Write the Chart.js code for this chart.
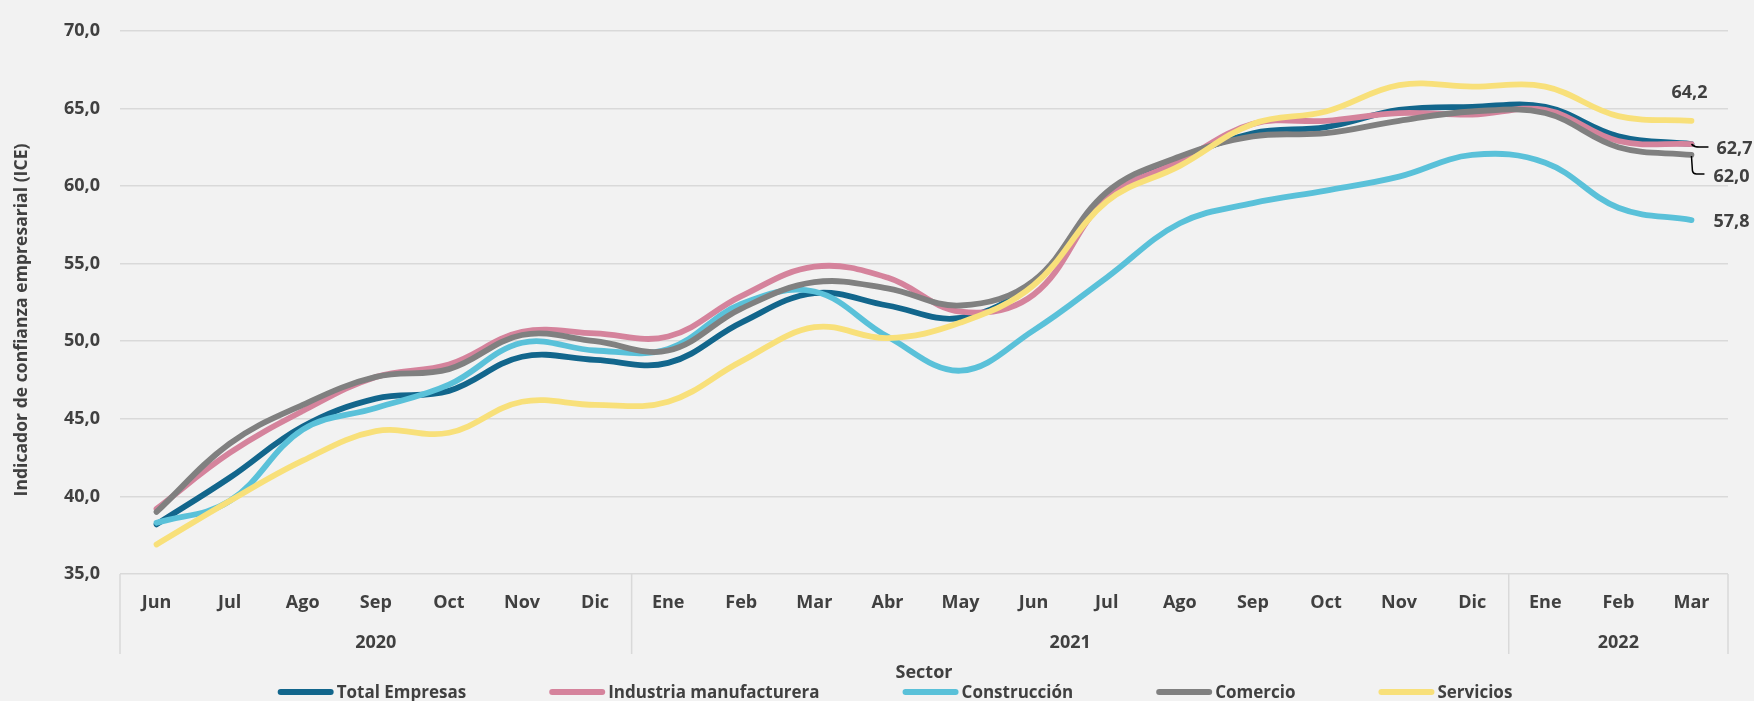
<!DOCTYPE html>
<html><head><meta charset="utf-8">
<script src="https://cdn.jsdelivr.net/npm/chart.js@4/dist/chart.umd.min.js"></script>
<style>html,body{margin:0;padding:0;background:#f2f2f2;}#wrap{width:1754px;height:701px;position:relative;}</style>
</head><body><div id="wrap"><canvas id="c"></canvas></div>
<script>
const months = ['Jun','Jul','Ago','Sep','Oct','Nov','Dic','Ene','Feb','Mar','Abr','May','Jun','Jul','Ago','Sep','Oct','Nov','Dic','Ene','Feb','Mar'];
const yearLabels = ['2020','2021','2022'];
const yearSpans = [7,12,3];
const seriesNames = ['Total Empresas','Industria manufacturera','Construcción','Comercio','Servicios'];
const totalEmpresas = [38.2,41.2,44.5,46.3,46.8,49.0,48.8,48.6,51.2,53.1,52.3,51.5,53.8,59.1,61.7,63.4,63.8,64.9,65.1,65.1,63.2,62.7];
const industria =     [39.2,42.8,45.5,47.7,48.5,50.6,50.5,50.3,52.9,54.8,54.1,51.9,53.0,59.2,61.6,64.0,64.2,64.7,64.6,64.9,62.9,62.7];
const construccion =  [38.3,39.7,44.3,45.7,47.2,49.9,49.4,49.5,52.4,53.2,50.3,48.1,50.7,54.1,57.6,58.9,59.7,60.6,62.0,61.5,58.6,57.8];
const comercio =      [39.0,43.4,45.9,47.7,48.2,50.4,50.0,49.4,52.1,53.8,53.4,52.3,53.9,59.6,61.9,63.2,63.4,64.2,64.8,64.7,62.5,62.0];
const servicios =     [36.9,39.7,42.3,44.2,44.1,46.1,45.9,46.1,48.7,50.9,50.2,51.2,53.6,59.0,61.3,64.0,64.8,66.5,66.4,66.4,64.5,64.2];
const seriesValues = [totalEmpresas, industria, construccion, comercio, servicios];
const yTitle = 'Indicador de confianza empresarial (ICE)';
const legendTitle = 'Sector';

const colors = ['#12668c','#d5839c','#5ac1d9','#808080','#f8e07a'];
const FONT = '"Open Sans", "Noto Sans", sans-serif';
const TXT = '#404040';
const fmt = v => v.toFixed(1).replace('.', ',');

const decorations = {
  id: 'decorations',
  afterDraw(chart) {
    const ctx = chart.ctx, xs = chart.scales.x, ca = chart.chartArea;
    ctx.save();
    ctx.strokeStyle = '#d9d9d9'; ctx.lineWidth = 1.5;
    const bounds = [ca.left]; let idx = 0;
    yearSpans.forEach(n => {
      idx += n;
      bounds.push(idx < months.length ? (xs.getPixelForValue(idx - 1) + xs.getPixelForValue(idx)) / 2 : ca.right);
    });
    bounds.forEach(b => { ctx.beginPath(); ctx.moveTo(b, ca.bottom); ctx.lineTo(b, ca.bottom + 80); ctx.stroke(); });
    ctx.fillStyle = TXT; ctx.font = 'bold 18px ' + FONT; ctx.textAlign = 'center'; ctx.textBaseline = 'middle';
    yearLabels.forEach((l, i) => ctx.fillText(l, (bounds[i] + bounds[i + 1]) / 2, ca.bottom + 69));

    ctx.save();
    ctx.font = 'bold 16px ' + FONT;
    const w16 = ctx.measureText(yTitle).width;
    const fs = 16 * 353 / w16;
    ctx.font = 'bold ' + fs.toFixed(2) + 'px ' + FONT;
    ctx.translate(22, 320); ctx.rotate(-Math.PI / 2);
    ctx.fillText(yTitle, 0, 0);
    ctx.restore();

    ctx.font = 'bold 18px ' + FONT; ctx.fillStyle = TXT;
    const last = months.length - 1;
    const pt = i => chart.getDatasetMeta(i).data[last];
    let p = pt(4);
    ctx.textAlign = 'center';
    ctx.fillText(fmt(servicios[last]), p.x - 2, p.y - 28);
    ctx.textAlign = 'left';
    p = pt(0);
    ctx.strokeStyle = '#000'; ctx.lineWidth = 1.5;
    ctx.beginPath(); ctx.moveTo(p.x, p.y); ctx.quadraticCurveTo(p.x + 3, p.y + 3, p.x + 8, p.y + 3); ctx.lineTo(p.x + 17, p.y + 3); ctx.stroke();
    ctx.fillText(fmt(totalEmpresas[last]), p.x + 25, p.y + 5);
    p = pt(3);
    ctx.beginPath(); ctx.moveTo(p.x, p.y + 1); ctx.lineTo(p.x + 1, p.y + 16); ctx.quadraticCurveTo(p.x + 1.5, p.y + 19, p.x + 5, p.y + 19); ctx.lineTo(p.x + 13, p.y + 19); ctx.stroke();
    ctx.fillText(fmt(comercio[last]), p.x + 22, p.y + 22);
    p = pt(2);
    ctx.fillText(fmt(construccion[last]), p.x + 22, p.y + 2);

    ctx.textAlign = 'center';
    ctx.fillText(legendTitle, (ca.left + ca.right) / 2, 673);
    ctx.textAlign = 'left';
    ctx.font = 'bold 17px ' + FONT;
    const boxW = 56, gapT = 3, gapI = 83;
    const widths = seriesNames.map(n => boxW + gapT + ctx.measureText(n).width);
    const total = widths.reduce((a, b) => a + b, 0) + gapI * (widths.length - 1);
    let x = 895 - total / 2;
    const ly = 692;
    seriesNames.forEach((n, i) => {
      ctx.strokeStyle = colors[i]; ctx.lineWidth = 6; ctx.lineCap = 'round';
      ctx.beginPath(); ctx.moveTo(x + 3, ly); ctx.lineTo(x + boxW - 3, ly); ctx.stroke();
      ctx.fillStyle = TXT;
      ctx.fillText(n, x + boxW + gapT, ly + 1);
      x += widths[i] + gapI;
    });
    ctx.restore();
  }
};

new Chart(document.getElementById('c'), {
  type: 'line',
  data: {
    labels: months,
    datasets: seriesNames.map((n, i) => ({
      label: n,
      data: seriesValues[i],
      borderColor: colors[i],
      backgroundColor: colors[i],
      borderWidth: 5.8,
      pointRadius: 0,
      tension: 0.38,
      borderCapStyle: 'round',
      borderJoinStyle: 'round',
      order: 5 - i
    }))
  },
  options: {
    responsive: true,
    maintainAspectRatio: false,
    animation: false,
    layout: { padding: { top: 18, right: 26, left: 0, bottom: 0 } },
    plugins: { legend: { display: false }, tooltip: { enabled: false } },
    scales: {
      x: {
        offset: true,
        grid: { display: false, drawTicks: false },
        border: { display: false },
        ticks: { font: { family: FONT, size: 18, weight: 'bold' }, color: TXT, padding: 18, autoSkip: false, maxRotation: 0 },
        afterFit: s => { s.height = 127; }
      },
      y: {
        min: 35, max: 70,
        grid: { color: '#d9d9d9', lineWidth: 1.5, drawTicks: false },
        border: { display: false },
        ticks: { stepSize: 5, padding: 20, font: { family: FONT, size: 18, weight: 'bold' }, color: TXT, callback: v => fmt(v) },
        afterFit: s => { s.width = 120; }
      }
    }
  },
  plugins: [decorations]
});
</script></body></html>
